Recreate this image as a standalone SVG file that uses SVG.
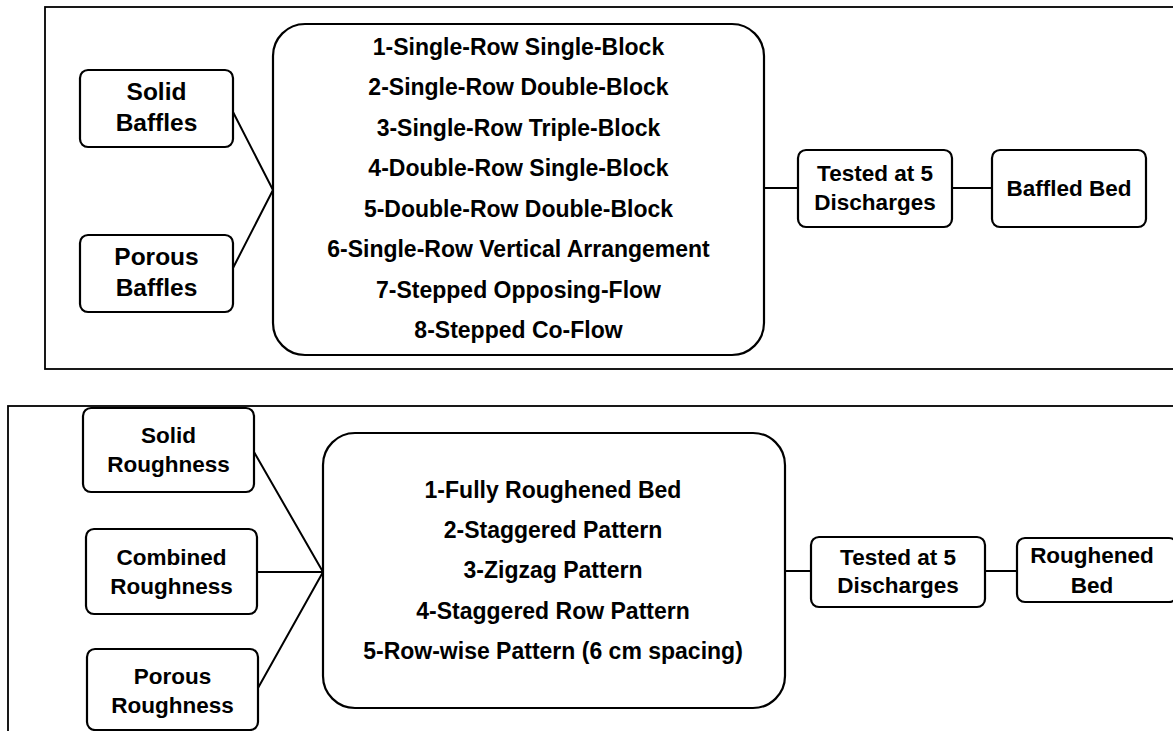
<svg xmlns="http://www.w3.org/2000/svg" width="1173" height="731" viewBox="0 0 1173 731">
<style>
.frame{fill:none;stroke:#000;stroke-width:1.8}
.box{fill:#fff;stroke:#000;stroke-width:2.2}
.conn{fill:none;stroke:#000;stroke-width:2}
text{font-family:"Liberation Sans",Arial,sans-serif;font-weight:bold;fill:#000;text-anchor:middle}
.big{font-size:24.5px}
.mid{font-size:22.5px}
.lst{font-size:23px}
</style>
<rect width="1173" height="731" fill="#fff"/>
<g id="frames">
<rect class="frame" x="45" y="7" width="1140" height="362"/>
<rect class="frame" x="8" y="406" width="1180" height="340"/>
</g>
<g id="connectors">
<polyline class="conn" points="233,112 273,190 233,268"/>
<line class="conn" x1="764" y1="188" x2="798" y2="188"/>
<line class="conn" x1="952" y1="188" x2="992" y2="188"/>
<polyline class="conn" points="254,452 323,572 258,688"/>
<line class="conn" x1="257" y1="572" x2="323" y2="572"/>
<line class="conn" x1="785" y1="571" x2="811" y2="571"/>
<line class="conn" x1="985" y1="571" x2="1017" y2="571"/>
</g>
<g id="solid-baffles">
<rect class="box" x="80" y="70" width="153" height="77" rx="8"/>
<text class="big" x="156.5" y="100">Solid</text>
<text class="big" x="156.5" y="131">Baffles</text>
</g>
<g id="porous-baffles">
<rect class="box" x="80" y="235" width="153" height="77" rx="8"/>
<text class="big" x="156.5" y="265">Porous</text>
<text class="big" x="156.5" y="296">Baffles</text>
</g>
<g id="baffle-list">
<rect class="box" x="273" y="24" width="491" height="331" rx="32"/>
<text class="lst" x="518.5" y="55">1-Single-Row Single-Block</text>
<text class="lst" x="518.5" y="95">2-Single-Row Double-Block</text>
<text class="lst" x="518.5" y="136">3-Single-Row Triple-Block</text>
<text class="lst" x="518.5" y="176">4-Double-Row Single-Block</text>
<text class="lst" x="518.5" y="217">5-Double-Row Double-Block</text>
<text class="lst" x="518.5" y="257">6-Single-Row Vertical Arrangement</text>
<text class="lst" x="518.5" y="298">7-Stepped Opposing-Flow</text>
<text class="lst" x="518.5" y="338">8-Stepped Co-Flow</text>
</g>
<g id="tested-top">
<rect class="box" x="798" y="150" width="154" height="77" rx="8"/>
<text class="mid" x="875" y="181">Tested at 5</text>
<text class="mid" x="875" y="210">Discharges</text>
</g>
<g id="baffled-bed">
<rect class="box" x="992" y="150" width="154" height="77" rx="8"/>
<text class="mid" x="1069" y="196">Baffled Bed</text>
</g>
<g id="solid-roughness">
<rect class="box" x="83" y="408" width="171" height="84" rx="8"/>
<text class="mid" x="168.5" y="443">Solid</text>
<text class="mid" x="168.5" y="472">Roughness</text>
</g>
<g id="combined-roughness">
<rect class="box" x="86" y="529" width="171" height="85" rx="8"/>
<text class="mid" x="171.5" y="565">Combined</text>
<text class="mid" x="171.5" y="594">Roughness</text>
</g>
<g id="porous-roughness">
<rect class="box" x="87" y="649" width="171" height="81" rx="8"/>
<text class="mid" x="172.5" y="684">Porous</text>
<text class="mid" x="172.5" y="713">Roughness</text>
</g>
<g id="roughness-list">
<rect class="box" x="323" y="433" width="462" height="275" rx="32"/>
<text class="lst" x="553" y="498">1-Fully Roughened Bed</text>
<text class="lst" x="553" y="538">2-Staggered Pattern</text>
<text class="lst" x="553" y="578">3-Zigzag Pattern</text>
<text class="lst" x="553" y="619">4-Staggered Row Pattern</text>
<text class="lst" x="553" y="659">5-Row-wise Pattern (6 cm spacing)</text>
</g>
<g id="tested-bottom">
<rect class="box" x="811" y="537" width="174" height="70" rx="8"/>
<text class="mid" x="898" y="565">Tested at 5</text>
<text class="mid" x="898" y="593">Discharges</text>
</g>
<g id="roughened-bed">
<rect class="box" x="1017" y="538" width="160" height="64" rx="8"/>
<text class="mid" x="1092" y="563">Roughened</text>
<text class="mid" x="1092" y="593">Bed</text>
</g>
</svg>
